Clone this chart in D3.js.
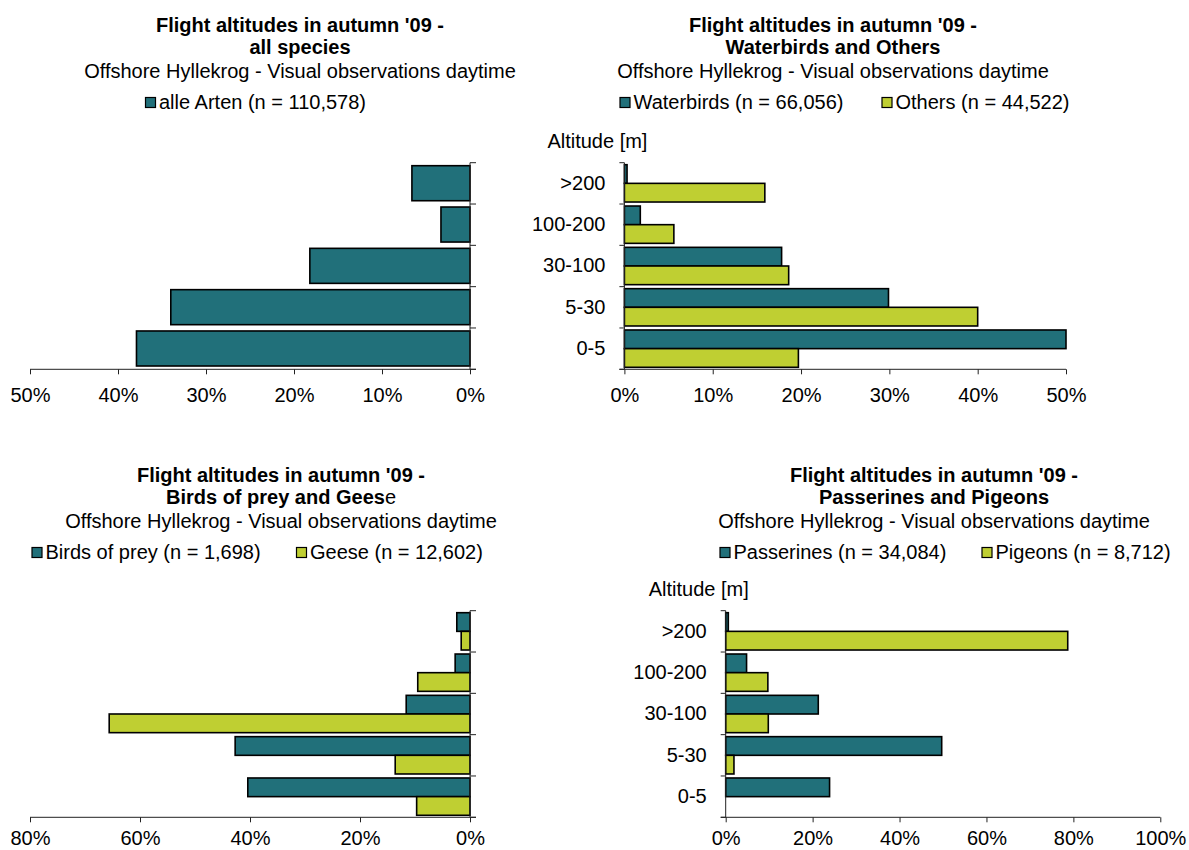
<!DOCTYPE html>
<html>
<head>
<meta charset="utf-8">
<script src="https://cdn.jsdelivr.net/npm/d3@7"></script>
<style>
  html, body { margin: 0; padding: 0; background: #fff; }
  svg { display: block; font-family: "Liberation Sans", Arial, sans-serif; }
</style>
</head>
<body>
<svg id="chart" width="1189" height="850"></svg>
<script>
// ---- data ----
const categories = [">200", "100-200", "30-100", "5-30", "0-5"];
const allSpecies = [6.6, 3.3, 18.2, 34.0, 37.9];
const waterbirds = [0.3, 1.8, 17.8, 29.9, 50.0];
const others = [15.9, 5.6, 18.6, 40.0, 19.7];
const birdsOfPrey = [2.4, 2.7, 11.6, 42.7, 40.4];
const geese = [1.6, 9.5, 65.6, 13.6, 9.7];
const passerines = [0.6, 4.8, 21.3, 49.7, 23.9];
const pigeons = [78.7, 9.7, 9.8, 1.9, 0];

const ticksTop = [0, 10, 20, 30, 40, 50];
const ticksBL = [0, 20, 40, 60, 80];
const ticksBR = [0, 20, 40, 60, 80, 100];

const titleLine1 = "Flight altitudes in autumn '09 -";
const subtitle = "Offshore Hyllekrog - Visual observations daytime";
const yAxisTitle = "Altitude [m]";

const TEAL = "#21707a";
const LIME = "#bfcf32";

const svg = d3.select("#chart");

function panel(cfg) {
  const g = svg.append("g");
  // titles
  g.append("text").attr("x", cfg.cx).attr("y", cfg.tY)
    .attr("text-anchor", "middle").attr("font-size", 20).attr("font-weight", "bold")
    .text(titleLine1);
  const t2 = g.append("text").attr("x", cfg.cx).attr("y", cfg.tY + 22)
    .attr("text-anchor", "middle").attr("font-size", 20);
  cfg.title2.forEach(p => t2.append("tspan").attr("font-weight", p[1] ? "bold" : "normal").text(p[0]));
  g.append("text").attr("x", cfg.cx).attr("y", cfg.tY + 46.5)
    .attr("text-anchor", "middle").attr("font-size", 20).text(subtitle);

  // legend
  cfg.series.forEach((s, i) => {
    const lx = cfg.legendX[i];
    const ly = cfg.tY + 77;
    g.append("rect").attr("x", lx).attr("y", ly - 11).attr("width", 10).attr("height", 10)
      .attr("fill", s.color).attr("stroke", "#000").attr("stroke-width", 1.2);
    g.append("text").attr("x", lx + 13.5).attr("y", ly).attr("font-size", 20).text(s.label);
  });

  // scales
  const x = d3.scaleLinear().domain(cfg.domain).range(cfg.xRange);
  const y = d3.scaleBand().domain(categories).range([cfg.yTop, cfg.yBot]).padding(0);
  const bw = y.bandwidth();
  const inner = d3.scaleBand().domain(cfg.series.map((s, i) => i))
    .range(cfg.series.length === 1 ? [3, bw - 3.3] : [2, bw - 2]).padding(0);
  const x0 = x(0);

  // bars
  cfg.series.forEach((s, si) => {
    g.append("g").selectAll("rect")
      .data(categories.map((c, ci) => ({ c, v: s.values[ci] })).filter(d => d.v > 0))
      .join("rect")
      .attr("x", d => Math.min(x(d.v), x0))
      .attr("width", d => Math.abs(x(d.v) - x0))
      .attr("y", d => y(d.c) + inner(si))
      .attr("height", inner.bandwidth())
      .attr("fill", s.color)
      .attr("stroke", "#000")
      .attr("stroke-width", 1.6);
  });

  // x axis
  const xAxis = d3.axisBottom(x).tickValues(cfg.ticks).tickSize(5).tickSizeOuter(0)
    .tickFormat(d => d + "%");
  const ax = g.append("g").attr("transform", `translate(0,${cfg.yBot})`).call(xAxis);
  ax.select(".domain").remove();
  ax.selectAll(".tick line").attr("stroke", "#222");
  ax.selectAll(".tick text").attr("font-size", 20).attr("font-family", "Liberation Sans, Arial, sans-serif")
    .attr("fill", "#000").attr("dy", null).attr("y", cfg.labelOff);
  const side = cfg.yAxisRight ? 6 : -5;
  g.append("line").attr("x1", d3.min([x.range()[0], x.range()[1], x0 + side]))
    .attr("x2", d3.max([x.range()[0], x.range()[1], x0 + side]))
    .attr("y1", cfg.yBot).attr("y2", cfg.yBot).attr("stroke", "#222").attr("stroke-width", 1);

  // y axis line and boundary ticks
  g.append("line").attr("x1", x0).attr("x2", x0).attr("y1", cfg.yTop).attr("y2", cfg.yBot)
    .attr("stroke", "#222").attr("stroke-width", 1);
  const bounds = categories.map(c => y(c)).concat([cfg.yBot]);
  g.append("g").selectAll("line").data(bounds).join("line")
    .attr("x1", x0).attr("x2", x0 + side).attr("y1", d => d).attr("y2", d => d)
    .attr("stroke", "#222").attr("stroke-width", 1);

  // category labels
  if (cfg.catLabels) {
    const yAx = d3.axisLeft(y).tickSize(0).tickPadding(19);
    const ya = g.append("g").attr("transform", `translate(${x0},0)`).call(yAx);
    ya.select(".domain").remove();
    ya.selectAll(".tick text").attr("font-size", 20)
      .attr("font-family", "Liberation Sans, Arial, sans-serif").attr("fill", "#000");
    g.append("text").attr("x", x0 - 77).attr("y", cfg.yTop - 15).attr("font-size", 20).text(yAxisTitle);
  }
}

panel({
  cx: 300, tY: 31.5,
  title2: [["all species", true]],
  series: [{ label: "alle Arten (n = 110,578)", values: allSpecies, color: TEAL }],
  legendX: [145.5],
  domain: [50, 0], xRange: [30, 470], ticks: ticksTop,
  yTop: 162.7, yBot: 369.3, labelOff: 33, yAxisRight: true, catLabels: false
});

panel({
  cx: 833, tY: 31.5,
  title2: [["Waterbirds and Others", true]],
  series: [
    { label: "Waterbirds (n = 66,056)", values: waterbirds, color: TEAL },
    { label: "Others (n = 44,522)", values: others, color: LIME }
  ],
  legendX: [620, 882],
  domain: [0, 50], xRange: [624.4, 1066], ticks: ticksTop,
  yTop: 162.7, yBot: 369.3, labelOff: 33, yAxisRight: false, catLabels: true
});

panel({
  cx: 281, tY: 481.5,
  title2: [["Birds of prey and Gees", true], ["e", false]],
  series: [
    { label: "Birds of prey (n = 1,698)", values: birdsOfPrey, color: TEAL },
    { label: "Geese (n = 12,602)", values: geese, color: LIME }
  ],
  legendX: [32, 296.5],
  domain: [80, 0], xRange: [30, 470], ticks: ticksBL,
  yTop: 610.7, yBot: 817.3, labelOff: 28, yAxisRight: true, catLabels: false
});

panel({
  cx: 934, tY: 481.5,
  title2: [["Passerines and Pigeons", true]],
  series: [
    { label: "Passerines (n = 34,084)", values: passerines, color: TEAL },
    { label: "Pigeons (n = 8,712)", values: pigeons, color: LIME }
  ],
  legendX: [720, 982],
  domain: [0, 100], xRange: [725.7, 1160.3], ticks: ticksBR,
  yTop: 610.7, yBot: 817.3, labelOff: 28, yAxisRight: false, catLabels: true
});
</script>
</body>
</html>
